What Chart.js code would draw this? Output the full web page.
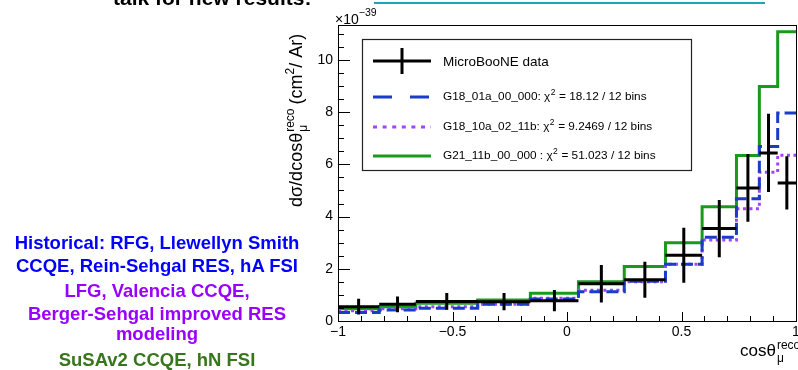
<!DOCTYPE html>
<html>
<head>
<meta charset="utf-8">
<title>MicroBooNE CC inclusive cos theta</title>
<script src="https://cdn.jsdelivr.net/npm/chart.js@4.4.1/dist/chart.umd.min.js"></script>
<style>
  html, body { margin: 0; padding: 0; background: #fff; }
  #wrap { position: relative; width: 798px; height: 370px; overflow: hidden; background: #fff; }
  #chart { position: absolute; left: 0; top: 0; }
  .note {
    position: absolute; left: 0; width: 314px; text-align: center; white-space: nowrap;
    font-family: "Liberation Sans", Arial, Helvetica, sans-serif; font-weight: bold;
    font-size: 18.5px; line-height: 18.5px;
  }
  .blue { color: #0000ff; }
  .purple { color: #9900ff; }
  .green { color: #38761d; }
  #talk {
    position: absolute; left: 113px; top: -13px; white-space: nowrap;
    font-family: "Liberation Sans", Arial, Helvetica, sans-serif; font-weight: bold;
    font-size: 21px; line-height: 21px; color: #000;
  }
  #link { position: absolute; left: 374px; top: 2px; width: 391px; height: 2px; background: #22a2b2; }
</style>
</head>
<body>
<div id="wrap">
  <canvas id="chart" width="840" height="370" style="width:840px;height:370px"></canvas>
  <div id="talk">talk for new results:</div>
  <div id="link"></div>
  <div class="note blue" style="top:233.6px">Historical: RFG, Llewellyn Smith</div>
  <div class="note blue" style="top:257px">CCQE, Rein-Sehgal RES, hA FSI</div>
  <div class="note purple" style="top:281.6px">LFG, Valencia CCQE,</div>
  <div class="note purple" style="top:305px">Berger-Sehgal improved RES</div>
  <div class="note purple" style="top:325px">modeling</div>
  <div class="note green" style="top:351px">SuSAv2 CCQE, hN FSI</div>
</div>
<script>
// --- Data (cross section in units of 1e-39 cm^2 / Ar) ---
const binEdges = [-1, -0.82, -0.66, -0.39, -0.16, 0.05, 0.25, 0.43, 0.59, 0.74, 0.84, 0.92, 1];
const dataValues = [0.55, 0.64, 0.75, 0.74, 0.78, 1.43, 1.58, 2.52, 3.54, 5.10, 6.44, 5.29];
const dataErrors = [0.30, 0.30, 0.32, 0.33, 0.41, 0.72, 0.69, 1.05, 1.10, 1.30, 1.50, 1.02];
const g18_01a = [0.33, 0.42, 0.49, 0.64, 0.84, 1.12, 1.52, 2.17, 3.21, 4.68, 6.69, 7.97];
const g18_10a = [0.39, 0.47, 0.55, 0.64, 0.87, 1.18, 1.50, 2.17, 3.10, 4.30, 5.70, 6.35];
const g21_11b = [0.47, 0.55, 0.68, 0.80, 1.06, 1.50, 2.09, 3.00, 4.38, 6.34, 8.98, 11.08];

const xTicks = [-1, -0.5, 0, 0.5, 1];
const yTicks = [0, 2, 4, 6, 8, 10];
const yMax = 11.34;

const legendLabels = [
    'MicroBooNE data',
    ['G18_01a_00_000: \u03c7', '2', ' = 18.12 / 12 bins'],
    ['G18_10a_02_11b: \u03c7', '2', ' = 9.2469 / 12 bins'],
    ['G21_11b_00_000 : \u03c7', '2', ' = 51.023 / 12 bins']
];

const plotFont = '"Liberation Sans", Arial, Helvetica, sans-serif';
const colBlue = '#1a3cc8';
const colPurple = '#a045ff';
const colGreen = '#1a9a1a';

// histogram outline: one point per bin low edge, plus the last edge
function histPoints(vals) {
    const pts = vals.map((v, i) => ({ x: binEdges[i], y: v }));
    pts.push({ x: binEdges[binEdges.length - 1], y: vals[vals.length - 1] });
    return pts;
}

// data crosses: horizontal bar over the bin, vertical error bar at bin centre
function crossPoints() {
    const pts = [];
    dataValues.forEach((v, i) => {
        const lo = binEdges[i], hi = binEdges[i + 1], mid = (lo + hi) / 2;
        pts.push({ x: lo, y: v }, { x: hi, y: v }, { x: hi, y: null });
        pts.push({ x: mid, y: v - dataErrors[i] }, { x: mid, y: v + dataErrors[i] }, { x: mid, y: null });
    });
    return pts;
}

function fmtTick(v) {
    if (v < 0) return '\u2212' + Math.abs(v);
    return String(v);
}

function run(ctx, text, x, y, size) {
    ctx.font = size + 'px ' + plotFont;
    ctx.fillText(text, x, y);
    return ctx.measureText(text).width;
}

// --- ROOT style frame, inner ticks, legend and titles ---
const rootStyle = {
    id: 'rootStyle',
    afterDatasetsDraw(chart) {
        const ctx = chart.ctx;
        const a = chart.chartArea;
        const xs = chart.scales.x, ys = chart.scales.y;
        ctx.save();
        ctx.strokeStyle = '#000';
        ctx.lineWidth = 1;

        // frame
        ctx.strokeRect(Math.round(a.left) + 0.5, Math.round(a.top) + 0.5,
            Math.round(a.right - a.left), Math.round(a.bottom - a.top));

        // x ticks (inside, from the bottom)
        ctx.beginPath();
        for (let k = -10; k <= 10; k++) {
            const v = k / 10;
            const px = Math.round(xs.getPixelForValue(v)) + 0.5;
            const len = (k % 5 === 0) ? 9 : 5;
            ctx.moveTo(px, a.bottom);
            ctx.lineTo(px, a.bottom - len);
        }
        // y ticks (inside, from the left)
        for (let k = 0; k * 0.5 <= yMax; k++) {
            const v = k * 0.5;
            const py = Math.round(ys.getPixelForValue(v)) + 0.5;
            const len = (k % 4 === 0) ? 12 : 6;
            ctx.moveTo(a.left, py);
            ctx.lineTo(a.left + len, py);
        }
        ctx.stroke();

        // legend box
        const lx = 362, ly = 39, lw = 329, lh = 131;
        ctx.fillStyle = '#fff';
        ctx.fillRect(lx, ly, lw, lh);
        ctx.strokeStyle = '#222';
        ctx.lineWidth = 1.2;
        ctx.strokeRect(lx + 0.5, ly + 0.5, lw, lh);

        const sx0 = 373, sx1 = 431, tx = 443;
        const rows = [61, 97, 127, 156];

        // data cross symbol
        ctx.strokeStyle = '#000';
        ctx.lineWidth = 3;
        ctx.beginPath();
        ctx.moveTo(sx0, rows[0]); ctx.lineTo(sx1, rows[0]);
        ctx.moveTo(402, rows[0] - 13); ctx.lineTo(402, rows[0] + 13);
        ctx.stroke();

        const styles = [
            { color: colBlue, dash: [19, 18] },
            { color: colPurple, dash: [4, 5.6] },
            { color: colGreen, dash: [] }
        ];
        styles.forEach((s, i) => {
            ctx.strokeStyle = s.color;
            ctx.setLineDash(s.dash);
            ctx.beginPath();
            ctx.moveTo(sx0, rows[i + 1]);
            ctx.lineTo(sx1, rows[i + 1]);
            ctx.stroke();
        });
        ctx.setLineDash([]);

        ctx.fillStyle = '#000';
        ctx.textAlign = 'left';
        ctx.textBaseline = 'middle';
        run(ctx, legendLabels[0], tx, rows[0] + 1, 13.5);
        for (let i = 1; i < legendLabels.length; i++) {
            const parts = legendLabels[i];
            let x = tx;
            x += run(ctx, parts[0], x, rows[i], 11.8);
            x += run(ctx, parts[1], x + 0.5, rows[i] - 4, 8.5) + 0.8;
            run(ctx, parts[2], x, rows[i], 11.8);
        }

        ctx.textBaseline = 'alphabetic';

        // exponent label
        let ex = 335;
        ex += run(ctx, '\u00d710', ex, 24, 14);
        run(ctx, '\u221239', ex, 16, 10.5);

        // x axis title
        let xx = 740;
        xx += run(ctx, 'cos\u03b8', xx, 356, 17);
        run(ctx, '\u03bc', xx + 1, 362, 12);
        run(ctx, 'reco', xx + 1, 349, 12);

        // y axis title (rotated)
        ctx.translate(302, 207);
        ctx.rotate(-Math.PI / 2);
        let yx = 0;
        yx += run(ctx, 'd\u03c3/dcos\u03b8', yx, 0, 18);
        const wSub = run(ctx, '\u03bc', yx + 1, 5, 12);
        const wSup = run(ctx, 'reco', yx + 1, -8, 12);
        yx += Math.max(wSub, wSup) + 5;
        yx += run(ctx, '(cm', yx, 0, 18);
        yx += run(ctx, '2', yx, -8, 12);
        run(ctx, '/ Ar)', yx, 0, 18);

        ctx.restore();
    }
};

const ctx = document.getElementById('chart').getContext('2d');
const chart = new Chart(ctx, {
    type: 'line',
    data: {
        datasets: [
            {
                label: 'MicroBooNE data',
                data: crossPoints(),
                borderColor: '#000',
                borderWidth: 3,
                spanGaps: false,
                pointRadius: 0
            },
            {
                label: 'G18_01a_00_000',
                data: histPoints(g18_01a),
                borderColor: colBlue,
                borderWidth: 3,
                borderDash: [12, 5],
                stepped: true,
                pointRadius: 0
            },
            {
                label: 'G18_10a_02_11b',
                data: histPoints(g18_10a),
                borderColor: colPurple,
                borderWidth: 3,
                borderDash: [3, 3.5],
                stepped: true,
                pointRadius: 0
            },
            {
                label: 'G21_11b_00_000',
                data: histPoints(g21_11b),
                borderColor: colGreen,
                borderWidth: 3,
                stepped: true,
                pointRadius: 0
            }
        ]
    },
    options: {
        responsive: false,
        animation: false,
        events: [],
        layout: { padding: { left: 300, right: 44, top: 25, bottom: 0 } },
        plugins: {
            legend: { display: false },
            tooltip: { enabled: false }
        },
        scales: {
            x: {
                type: 'linear',
                min: -1,
                max: 1,
                grid: { display: false, drawTicks: false },
                border: { display: false },
                afterBuildTicks: (s) => { s.ticks = xTicks.map(v => ({ value: v })); },
                afterFit: (s) => { s.height = 49; },
                ticks: {
                    padding: 3,
                    maxRotation: 0,
                    autoSkip: false,
                    color: '#000',
                    font: { family: plotFont, size: 14 },
                    callback: (v) => fmtTick(v)
                }
            },
            y: {
                type: 'linear',
                min: 0,
                max: yMax,
                grid: { display: false, drawTicks: false },
                border: { display: false },
                afterBuildTicks: (s) => { s.ticks = yTicks.map(v => ({ value: v })); },
                afterFit: (s) => { s.width = 38; },
                ticks: {
                    padding: 5,
                    autoSkip: false,
                    color: '#000',
                    font: { family: plotFont, size: 14 },
                    callback: (v) => fmtTick(v)
                }
            }
        }
    },
    plugins: [rootStyle]
});
</script>
</body>
</html>
